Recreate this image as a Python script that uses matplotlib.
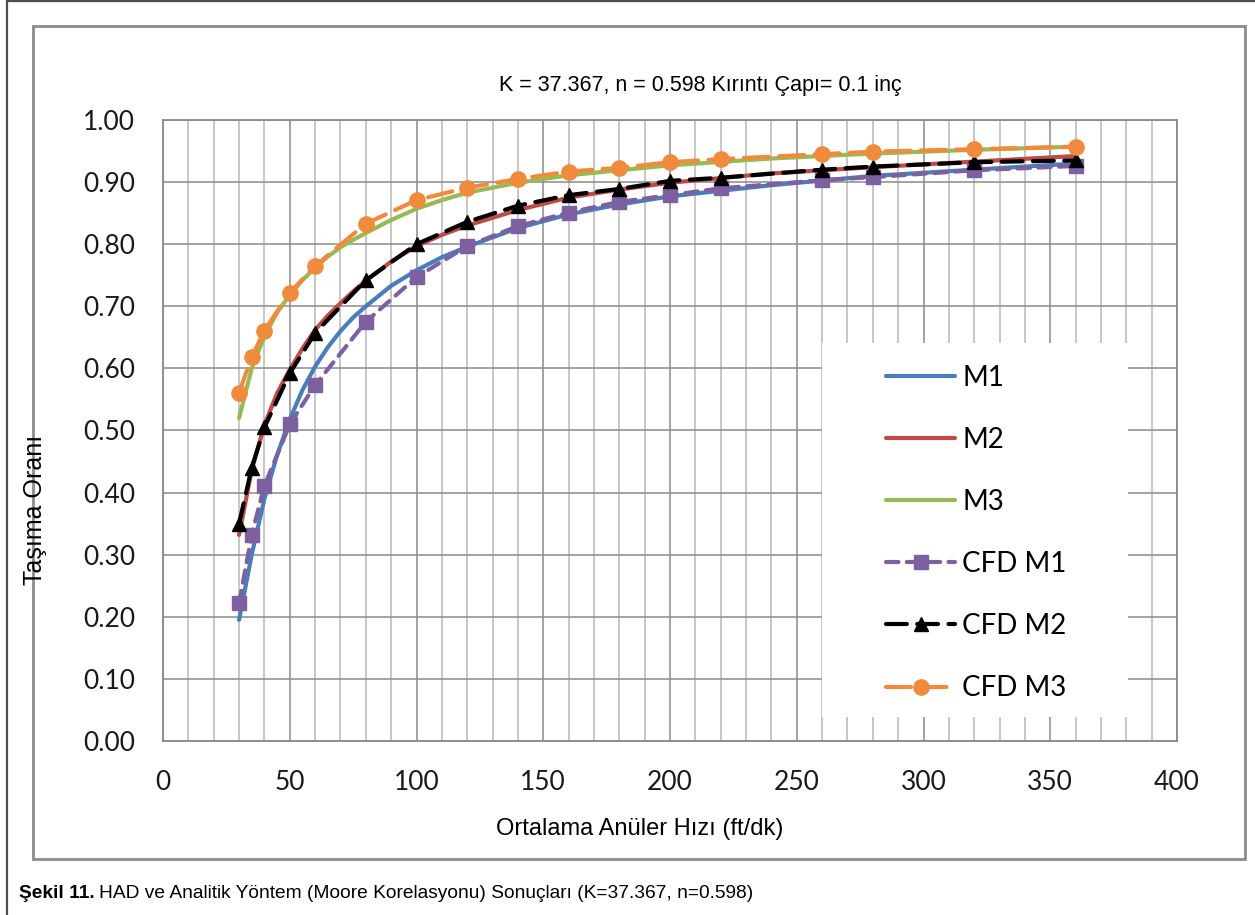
import matplotlib
matplotlib.use("Agg")
import matplotlib.pyplot as plt
from matplotlib.patches import Rectangle
from matplotlib.lines import Line2D
from matplotlib.ticker import MultipleLocator, FormatStrFormatter

# velocity points where the CFD runs were made (ft/dk)
cfd_velocity = [30, 35, 40, 50, 60, 80, 100, 120, 140, 160, 180, 200, 220, 260, 280, 320, 360]
cfd_m1 = [0.222, 0.332, 0.411, 0.510, 0.573, 0.675, 0.747, 0.797, 0.829, 0.851, 0.868,
          0.879, 0.890, 0.903, 0.908, 0.919, 0.926]
cfd_m2 = [0.350, 0.440, 0.505, 0.592, 0.657, 0.742, 0.800, 0.836, 0.862, 0.879, 0.889,
          0.902, 0.907, 0.920, 0.925, 0.932, 0.935]
cfd_m3 = [0.561, 0.618, 0.661, 0.722, 0.765, 0.833, 0.871, 0.891, 0.905, 0.917, 0.923,
          0.932, 0.937, 0.945, 0.949, 0.953, 0.957]

# analytic (Moore correlation) curves
model_velocity = [30, 35, 40, 45, 50, 55, 60, 65, 70, 75, 80, 90, 100, 110, 120, 140, 160,
                  180, 200, 240, 280, 320, 360]
m1 = [0.195, 0.300, 0.390, 0.460, 0.518, 0.565, 0.603, 0.634, 0.660, 0.682, 0.700, 0.733,
      0.758, 0.779, 0.796, 0.826, 0.848, 0.864, 0.877, 0.895, 0.910, 0.920, 0.930]
m2 = [0.332, 0.436, 0.509, 0.560, 0.598, 0.632, 0.662, 0.685, 0.705, 0.724, 0.741, 0.772,
      0.797, 0.815, 0.830, 0.855, 0.875, 0.888, 0.899, 0.914, 0.924, 0.933, 0.942]
m3 = [0.520, 0.600, 0.652, 0.690, 0.718, 0.742, 0.762, 0.780, 0.795, 0.807, 0.818, 0.839,
      0.857, 0.871, 0.883, 0.899, 0.911, 0.919, 0.927, 0.938, 0.946, 0.952, 0.957]

TICK_FONT = ["Lato", "DejaVu Sans"]
NARROW_FONT = ["Liberation Sans Narrow", "Liberation Sans", "DejaVu Sans"]

W, H = 1255, 915
fig = plt.figure(figsize=(W / 100, H / 100), dpi=100)
fig.patch.set_facecolor("white")


def px_box(x0, y0, x1, y1):
    # pixel box (top-left origin) -> figure fraction rect
    return [x0 / W, 1 - y1 / H, (x1 - x0) / W, (y1 - y0) / H]


# outer page border and chart-area frame
fig.add_artist(Rectangle((7 / W, -0.01), 1.02, 1 - 1 / H + 0.01, transform=fig.transFigure,
                         fill=False, ec="#4d4d4d", lw=1.6))
fig.add_artist(Rectangle((33 / W, 1 - 859 / H), (1245 - 33) / W, (859 - 26) / H,
                         transform=fig.transFigure, fill=False, ec="#8c8c8c", lw=2.0))

ax = fig.add_axes(px_box(163, 120, 1177, 741))
ax.set_xlim(0, 400)
ax.set_ylim(0, 1.0)
ax.xaxis.set_major_locator(MultipleLocator(50))
ax.xaxis.set_minor_locator(MultipleLocator(10))
ax.yaxis.set_major_locator(MultipleLocator(0.1))
ax.yaxis.set_major_formatter(FormatStrFormatter("%.2f"))
ax.set_axisbelow(True)
ax.grid(which="major", axis="both", color="#8a8a8a", lw=1.1)
ax.grid(which="minor", axis="x", color="#b8b8b8", lw=1.1)
ax.tick_params(which="both", length=0)
ax.tick_params(axis="y", pad=20)
ax.tick_params(axis="x", pad=21)
for lab in ax.get_xticklabels() + ax.get_yticklabels():
    lab.set_fontfamily(TICK_FONT)
    lab.set_fontsize(19)
    lab.set_color("#1a1a1a")
for s in ax.spines.values():
    s.set_color("#8a8a8a")
    s.set_linewidth(1.3)

# white area behind the legend hides the grid there
ax.add_patch(Rectangle((0.650, 0.0386), 0.302, 0.6024, transform=ax.transAxes,
                       facecolor="white", edgecolor="none", zorder=1))

blue, red, green = "#4a7ebb", "#be4b48", "#98b954"
purple, orange = "#7d60a0", "#f08a3c"
LW = 3.0

ax.plot(model_velocity, m1, color=blue, lw=LW, zorder=3, solid_capstyle="round")
ax.plot(model_velocity, m2, color=red, lw=LW, zorder=3, solid_capstyle="round")
ax.plot(model_velocity, m3, color=green, lw=LW, zorder=3, solid_capstyle="round")
ax.plot(cfd_velocity, cfd_m1, color=purple, lw=LW, dashes=(3, 2), dash_capstyle="round",
        marker="s", ms=10, zorder=4)
ax.plot(cfd_velocity, cfd_m2, color="black", lw=LW, dashes=(5, 2.5), dash_capstyle="round",
        marker="^", ms=10, zorder=4)
ax.plot(cfd_velocity, cfd_m3, color=orange, lw=LW, dashes=(6, 2.5), dash_capstyle="round",
        marker="o", ms=11, zorder=4)

handles = [
    Line2D([], [], color=blue, lw=LW, solid_capstyle="round"),
    Line2D([], [], color=red, lw=LW, solid_capstyle="round"),
    Line2D([], [], color=green, lw=LW, solid_capstyle="round"),
    Line2D([], [], color=purple, lw=LW, dashes=(3, 2), dash_capstyle="round", marker="s", ms=10),
    Line2D([], [], color="black", lw=LW, dashes=(5, 2.5), dash_capstyle="round", marker="^", ms=10),
    Line2D([], [], color=orange, lw=LW, dashes=(6, 2.5), dash_capstyle="round", marker="o", ms=11),
]
labels = ["M1", "M2", "M3", "CFD M1", "CFD M2", "CFD M3"]
leg = ax.legend(handles, labels, loc="upper left", bbox_to_anchor=(0.713, 0.606),
                frameon=False, borderpad=0, borderaxespad=0, handlelength=2.5,
                handletextpad=0.25, labelspacing=1.3, prop={"family": TICK_FONT, "size": 20})
leg.set_zorder(6)

fig.text(700 / W, 1 - 85 / H, "K = 37.367, n = 0.598 Kırıntı Çapı= 0.1 inç",
         ha="center", va="center", fontsize=15.5, family=NARROW_FONT)
fig.text(640 / W, 1 - 829 / H, "Ortalama Anüler Hızı (ft/dk)",
         ha="center", va="center", fontsize=17, family=NARROW_FONT)
fig.text(35 / W, 1 - 510 / H, "Taşıma Oranı", rotation=90,
         ha="center", va="center", fontsize=18, family=NARROW_FONT)

# caption: bold figure number followed by regular text
cap_y = 1 - 893 / H
bold = fig.text(19 / W, cap_y, "Şekil 11.", ha="left", va="center", fontsize=13.8,
                fontweight="bold", family=NARROW_FONT)
renderer = fig.canvas.get_renderer()
bb = bold.get_window_extent(renderer)
fig.text(bb.x1 / W + 4 / W, cap_y,
         "HAD ve Analitik Yöntem (Moore Korelasyonu) Sonuçları (K=37.367, n=0.598)",
         ha="left", va="center", fontsize=13.8, family=NARROW_FONT)

fig.savefig("out.png", dpi=100)
